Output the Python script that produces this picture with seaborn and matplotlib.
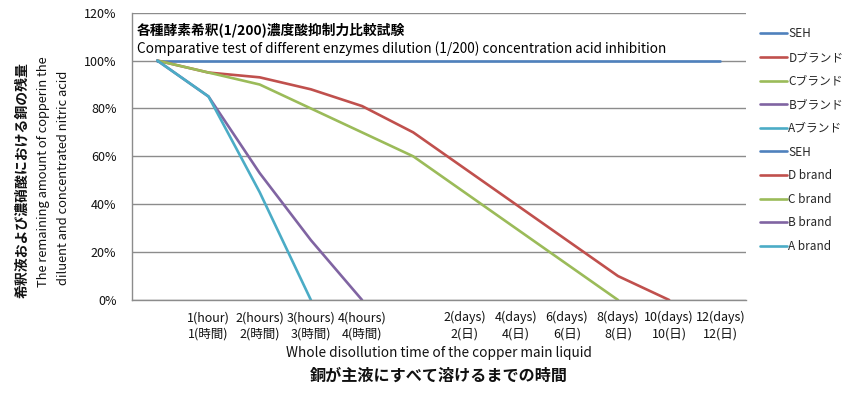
import numpy as np
import pandas as pd
import seaborn as sns
import matplotlib.pyplot as plt
from matplotlib.ticker import PercentFormatter

# category axis (12 slots, some unlabeled)
x_labels = ["", "1(hour)\n1(時間)", "2(hours)\n2(時間)", "3(hours)\n3(時間)",
            "4(hours)\n4(時間)", "", "2(days)\n2(日)", "4(days)\n4(日)",
            "6(days)\n6(日)", "8(days)\n8(日)", "10(days)\n10(日)", "12(days)\n12(日)"]

# remaining copper (%)
seh = [100, 100, 100, 100, 100, 100, 100, 100, 100, 100, 100, 100]
d_brand = [100, 95, 93, 88, 81, 70, 55, 40, 25, 10, 0]
c_brand = [100, 95, 90, 80, 70, 60, 45, 30, 15, 0]
b_brand = [100, 85, 53, 25, 0]
a_brand = [100, 85, 45, 0]

series_names = ["SEH", "D", "C", "B", "A"]
series_vals = [seh, d_brand, c_brand, b_brand, a_brand]
colors = ["#4F81BD", "#C0504D", "#9BBB59", "#8064A2", "#4BACC6"]
legend_labels = ["SEH", "Dブランド", "Cブランド", "Bブランド", "Aブランド",
                 "SEH", "D brand", "C brand", "B brand", "A brand"]

rows = []
for name, vals in zip(series_names, series_vals):
    for i, v in enumerate(vals):
        rows.append({"pos": i, "value": v, "brand": name})
df = pd.DataFrame(rows)

sns.set_theme(style="white")
plt.rcParams["font.family"] = ["Noto Sans CJK JP", "DejaVu Sans"]

fig = plt.figure(figsize=(8.51, 3.98), dpi=100)
ax = fig.add_axes([0.1548, 0.2462, 0.7218, 0.7219])

sns.lineplot(data=df, x="pos", y="value", hue="brand", hue_order=series_names,
             palette=colors, linewidth=1.9, ax=ax, legend=False, sort=False)

ax.set_xlim(-0.5, 11.5)
ax.set_ylim(0, 120)
ax.set_yticks(np.arange(0, 121, 20))
ax.yaxis.set_major_formatter(PercentFormatter(decimals=0))
ax.set_xticks(np.arange(12))
ax.set_xticklabels(x_labels, fontsize=9, color="#111111", linespacing=1.35)
ax.set_xticks(np.arange(-0.5, 12, 1), minor=True)
ax.tick_params(axis="x", which="major", length=0, pad=8)
ax.tick_params(axis="x", which="minor", length=5, color="#8C8C8C", direction="out", width=1)
ax.tick_params(axis="y", length=5, color="#8C8C8C", direction="out", width=1,
               labelsize=9, labelcolor="#111111", pad=6)
ax.grid(axis="y", color="#8C8C8C", linewidth=1)
ax.grid(axis="x", visible=False)
for s in ["top", "right"]:
    ax.spines[s].set_visible(False)
for s in ["left", "bottom"]:
    ax.spines[s].set_color("#8C8C8C")
    ax.spines[s].set_linewidth(1)
ax.set_xlabel("")
ax.set_ylabel("")

# legend: each line listed twice (Japanese and English)
lines = ax.get_lines()[:5]
handles = list(lines) + list(lines)
fig.legend(handles, legend_labels, loc="upper left", bbox_to_anchor=(0.893, 0.931),
           frameon=False, fontsize=8.5, handlelength=2.3, handletextpad=0.1,
           labelspacing=0.9, borderpad=0, borderaxespad=0)

# titles inside plot
fig.text(0.161, 0.925, "各種酵素希釈(1/200)濃度酸抑制力比較試験", fontsize=9.9,
         fontweight="bold", va="center", ha="left", color="black")
fig.text(0.161, 0.879, "Comparative test of different enzymes dilution (1/200) concentration acid inhibition",
         fontsize=9.8, va="center", ha="left", color="black")

# axis titles
fig.text(0.516, 0.113, "Whole disollution time of the copper main liquid",
         fontsize=9.8, ha="center", va="center", color="#111111")
fig.text(0.516, 0.057, "銅が主液にすべて溶けるまでの時間", fontsize=11.6,
         fontweight="bold", ha="center", va="center", color="#111111")
fig.text(0.026, 0.548, "希釈液および濃硝酸における銅の残量", rotation=90, fontsize=10,
         fontweight="bold", ha="center", va="center", color="#111111")
fig.text(0.051, 0.568, "The remaining amount of copperin the", rotation=90, fontsize=9.3,
         ha="center", va="center", color="#111111")
fig.text(0.075, 0.553, "diluent and concentrated nitric acid", rotation=90, fontsize=9.3,
         ha="center", va="center", color="#111111")

fig.savefig("out.png", dpi=100)
